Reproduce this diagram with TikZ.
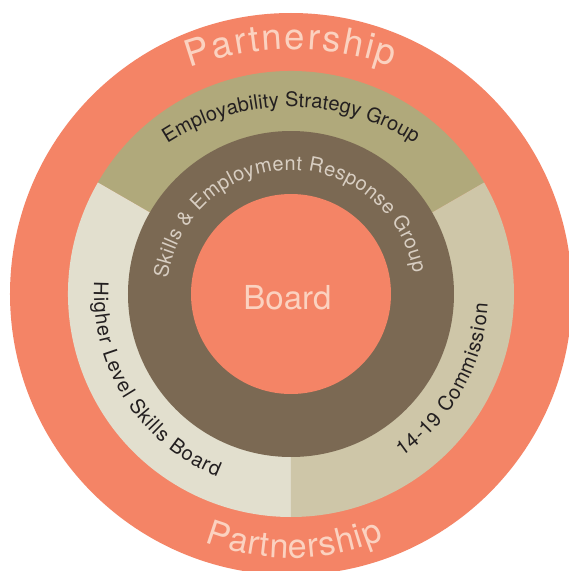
\documentclass[tikz,border=0pt]{standalone}
\usepackage{fontspec}
\setmainfont{TeX Gyre Heros}
\usetikzlibrary{decorations.text}
\definecolor{salmon}{HTML}{F48466}
\definecolor{olivering}{HTML}{B0A97B}
\definecolor{rightring}{HTML}{CEC6A8}
\definecolor{leftring}{HTML}{E2DFCE}
\definecolor{brownring}{HTML}{7B6953}
\definecolor{pinktxt}{HTML}{FBD2C0}
\definecolor{greytxt}{HTML}{D8CEC2}
\definecolor{darktxt}{HTML}{231F20}
\begin{document}
\begin{tikzpicture}[x=1pt,y=1pt,
  ringtext/.style={decorate, decoration={text along path, text align=fit to path, text={#1}}}]
\clip (-291,-277) rectangle (278,294);
\fill[white] (-291,-277) rectangle (278,294);
% rings
\fill[salmon] (0,0) circle[radius=281];
\fill[olivering] (0,0) -- (30:223) arc[start angle=30, end angle=150, radius=223] -- cycle;
\fill[leftring] (0,0) -- (150:223) arc[start angle=150, end angle=270, radius=223] -- cycle;
\fill[rightring] (0,0) -- (270:223) arc[start angle=270, end angle=390, radius=223] -- cycle;
\fill[brownring] (0,0) circle[radius=163];
\fill[salmon] (0,0) circle[radius=100];
% centre label
\node[anchor=base, inner sep=0pt, text=pinktxt, font=\fontsize{33}{33}\selectfont] (board) at (-3.5,-15) {Board};
% texts along arcs
\path[ringtext={|\fontsize{36.5}{36.5}\selectfont\color{pinktxt}|Partnership}]
  ([shift={(2,-55.5)}]110.1:300) arc[start angle=110.1, end angle=70.7, radius=300];
\path[ringtext={|\fontsize{34}{34}\selectfont\color{pinktxt}|Partnership}]
  ([shift={(0,-25)}]248.9:239) arc[start angle=248.9, end angle=292.8, radius=239];
\path[ringtext={|\fontsize{20}{20}\selectfont\color{darktxt}|Employability Strategy Group}]
  ([shift={(0,-40)}]123:227) arc[start angle=123, end angle=57, radius=227];
\path[ringtext={|\fontsize{20}{20}\selectfont\color{greytxt}|Skills {\&} Employment Response Group}]
  (173:124) arc[start angle=173, end angle=9.5, radius=124];
\path[ringtext={|\fontsize{20}{20}\selectfont\color{darktxt}|Higher Level Skills Board}]
  (176.5:197) arc[start angle=176.5, end angle=248, radius=197];
\path[ringtext={|\fontsize{20}{20}\selectfont\color{darktxt}|14-19 Commission}]
  (-55.7:197) arc[start angle=-55.7, end angle=-2.9, radius=197];
\end{tikzpicture}
\end{document}
